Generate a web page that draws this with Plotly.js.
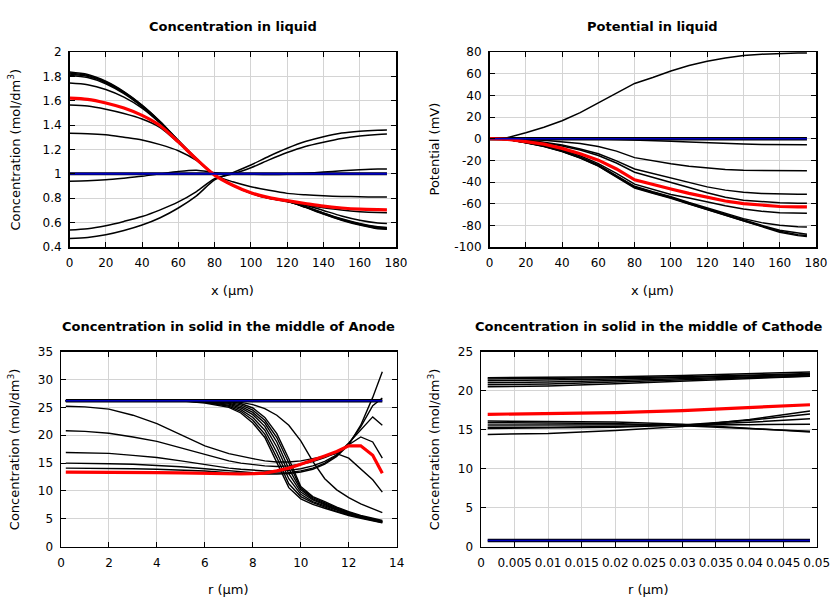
<!DOCTYPE html>
<html>
<head>
<meta charset="utf-8">
<script src="https://cdn.plot.ly/plotly-3.0.1.min.js"></script>
<style>html,body{margin:0;padding:0;background:#fff}#plot{width:840px;height:600px}</style>
</head>
<body>
<div id="plot"></div>
<script>
// ---------- Concentration in liquid (x in µm) ----------
const xLiquid = [0,10,20,30,40,50,60,70,80,90,100,110,120,130,140,150,160,170,175];
const xLiquidEnds = [0,175];
const liqInit = [1,1];
const liqA = [1.835,1.815,1.76,1.675,1.565,1.43,1.275,1.125,0.99,0.905,0.84,0.80,0.775,0.725,0.67,0.62,0.58,0.55,0.545];
const liqB = [1.828,1.808,1.754,1.67,1.56,1.427,1.272,1.123,0.99,0.906,0.842,0.802,0.776,0.727,0.673,0.623,0.584,0.555,0.55];
const liqC = [1.82,1.80,1.748,1.665,1.556,1.424,1.27,1.122,0.99,0.907,0.843,0.803,0.777,0.73,0.677,0.628,0.588,0.56,0.555];
const liqD = [1.81,1.79,1.74,1.658,1.55,1.42,1.268,1.12,0.99,0.908,0.844,0.804,0.778,0.733,0.68,0.632,0.593,0.566,0.56];
const liqE = [1.746,1.732,1.693,1.63,1.54,1.415,1.265,1.12,0.99,0.908,0.845,0.805,0.78,0.745,0.70,0.655,0.62,0.597,0.592];
const liqF = [1.565,1.556,1.53,1.495,1.45,1.38,1.255,1.118,0.99,0.907,0.843,0.80,0.772,0.745,0.722,0.703,0.69,0.683,0.682];
const liqG = [1.333,1.33,1.32,1.30,1.278,1.24,1.19,1.11,0.99,0.935,0.895,0.865,0.84,0.828,0.82,0.815,0.812,0.81,0.81];
const liqH = [0.94,0.944,0.952,0.965,0.98,1.0,1.02,1.03,1.01,1.0,0.997,0.995,0.997,1.005,1.015,1.025,1.034,1.04,1.04];
const liqI = [0.54,0.55,0.575,0.61,0.65,0.705,0.77,0.855,0.96,1.0,1.05,1.115,1.175,1.225,1.26,1.29,1.31,1.323,1.327];
const liqJ = [0.47,0.478,0.50,0.535,0.58,0.64,0.72,0.82,0.95,1.01,1.073,1.145,1.21,1.265,1.305,1.335,1.35,1.358,1.36];
const liqRed = [1.622,1.612,1.582,1.54,1.48,1.395,1.262,1.12,0.99,0.907,0.845,0.805,0.78,0.757,0.735,0.72,0.71,0.706,0.705];

// ---------- Potential in liquid (mV) ----------
const potInit = [0,0];
const potTop = [0,1,5.5,10.5,16.5,24,33,42,51,56.5,62.5,67.5,71.5,74.5,76.8,78,78.7,79,79];
const pot6 = [0,0,0,-0.05,-0.1,-0.2,-0.4,-0.7,-1.1,-1.6,-2.3,-3,-3.8,-4.5,-5,-5.4,-5.6,-5.7,-5.7];
const pot30 = [0,-0.2,-0.7,-1.5,-2.8,-4.5,-7.3,-11.5,-17.5,-20.5,-23.2,-25.5,-27.3,-28.5,-29.2,-29.5,-29.7,-29.7,-29.7];
const pot52 = [0,-0.4,-1.5,-3.2,-5.9,-9.5,-14,-20.5,-28,-32,-36.5,-40.5,-44.5,-47.5,-49.5,-50.6,-51.2,-51.4,-51.4];
const pot60 = [0,-0.5,-1.8,-3.7,-6.8,-10.5,-15.5,-22.5,-31,-35.5,-40.5,-45,-50,-54,-56.8,-58.3,-59.2,-59.6,-59.6];
const pot69 = [0,-0.7,-3.2,-6,-10.3,-15.8,-23,-32,-42,-47,-51.5,-54.8,-58.5,-62,-65,-67,-68.3,-68.8,-68.8];
const pot82 = [0,-0.8,-3.5,-6.6,-11.2,-17,-24.2,-34,-44,-49,-53.5,-59,-64,-69,-73.8,-77.5,-80,-81.3,-81.5];
const potB1 = [0,-0.8,-3.6,-6.8,-11.4,-17.4,-24.6,-34.5,-44.5,-49.5,-54,-59.5,-64.6,-70,-75,-80,-84.5,-87.5,-88.3];
const potB2 = [0,-0.8,-3.7,-7,-11.6,-17.7,-25,-35,-45,-50,-54.5,-60,-65,-70.5,-75.7,-80.8,-85.5,-88.6,-89.4];
const potB3 = [0,-0.8,-3.8,-7.2,-11.8,-18,-25.4,-35.4,-45.5,-50.5,-55,-60.4,-65.5,-71,-76.3,-81.5,-86.3,-89.5,-90.4];
const potRed = [0,-0.6,-2.8,-5,-9,-14,-19.8,-28,-38,-42.5,-46.5,-50.5,-54,-57.5,-60,-61.6,-62.6,-63,-63];
const potTickVals = [-100,-80,-60,-40,-20,0,20,40,60,80];
const potTickText = ['-100','-80','-60','-40','-20','0','20','40','60','80'];

// ---------- Solid, middle of anode (r in µm) ----------
const rAnode = [0.2,1,2,3,4,5,6,7,7.5,8,8.5,9,9.5,10,10.5,11,11.5,12,12.5,13,13.4];
const rAnodeEnds = [0.2,13.4];
const anInit = [26.2,26.2];
const anL  = [26.2,26.2,26.2,26.2,26.2,26.2,25.8,25.0,24.0,22.2,19.6,15.2,10.6,8.6,7.6,6.9,6.2,5.6,5.1,4.6,4.3];
const anB2 = [26.2,26.2,26.2,26.2,26.2,26.2,25.9,25.2,24.3,22.7,20.2,16.0,11.3,9.0,7.9,7.1,6.35,5.7,5.2,4.7,4.35];
const anB3 = [26.2,26.2,26.2,26.2,26.2,26.2,25.95,25.4,24.6,23.2,20.9,16.9,12.2,9.4,8.1,7.3,6.5,5.8,5.3,4.8,4.45];
const anB4 = [26.2,26.2,26.2,26.2,26.2,26.2,26.0,25.6,24.9,23.7,21.6,17.9,13.1,9.8,8.4,7.5,6.65,5.95,5.35,4.85,4.5];
const anB5 = [26.2,26.2,26.2,26.2,26.2,26.2,26.1,25.75,25.2,24.1,22.2,18.8,14.0,10.2,8.6,7.7,6.8,6.05,5.45,4.95,4.55];
const anB6 = [26.2,26.2,26.2,26.2,26.2,26.2,26.15,25.9,25.45,24.5,22.7,19.6,14.9,10.5,8.8,7.9,6.95,6.2,5.5,5.0,4.6];
const anT  = [26.2,26.2,26.2,26.2,26.2,26.2,26.2,26.05,25.7,24.9,23.2,20.3,15.8,10.8,9.0,8.1,7.1,6.3,5.6,5.1,4.7];
const anD  = [26.2,26.2,26.2,26.2,26.2,26.2,26.2,26.1,25.9,25.5,24.8,23.6,21.8,19.0,15.3,12.2,10.2,8.8,7.7,6.8,6.1];
const anC25 = [25.2,25.1,24.7,23.6,22.1,20.1,18.1,16.7,16.2,15.8,15.4,15.2,15.2,15.4,15.8,16.2,16.7,15.9,14.0,12.0,9.8];
const anC21 = [20.8,20.7,20.35,19.7,18.9,17.7,16.5,15.4,15.0,14.7,14.5,14.4,14.5,14.8,15.3,16.0,16.9,18.3,19.7,18.8,15.9];
const anC17 = [16.9,16.85,16.75,16.4,16.0,15.4,14.7,14.1,13.9,13.7,13.6,13.6,13.7,14.0,14.5,15.3,16.5,18.6,21.0,23.3,21.8];
const anC15 = [15.0,15.0,14.9,14.8,14.6,14.35,14.0,13.6,13.45,13.3,13.2,13.2,13.3,13.6,14.1,15.0,16.4,18.5,21.5,25.3,26.7];
const anC14 = [14.1,14.1,14.05,14.0,13.9,13.75,13.6,13.3,13.2,13.1,13.05,13.05,13.15,13.4,13.9,14.8,16.2,18.3,21.8,26.8,31.4];
const anRed = [13.4,13.4,13.4,13.35,13.3,13.25,13.15,13.05,13.05,13.1,13.2,13.6,14.1,14.8,15.5,16.3,17.1,18.1,18.1,16.4,13.2];

// ---------- Solid, middle of cathode (r in µm) ----------
const rCathode = [0.001,0.01,0.02,0.03,0.04,0.049];
const rCathodeEnds = [0.001,0.049];
const caInit = [0.8,0.8];
const caT1 = [21.67,21.7,21.8,21.95,22.15,22.4];
const caT2 = [21.5,21.55,21.65,21.8,22.0,22.2];
const caT3 = [21.28,21.35,21.5,21.7,21.9,22.1];
const caT4 = [21.03,21.1,21.3,21.55,21.8,22.0];
const caT5 = [20.77,20.85,21.1,21.4,21.65,21.9];
const caT6 = [20.5,20.6,20.9,21.2,21.5,21.85];
const caM1 = [16.1,16.05,16.0,15.7,15.2,14.7];
const caM2 = [15.9,15.85,15.8,15.5,15.1,14.8];
const caM3 = [15.6,15.6,15.6,15.6,15.65,15.7];
const caM4 = [15.3,15.3,15.4,15.6,15.95,16.4];
const caM5 = [15.15,15.2,15.3,15.6,16.2,17.0];
const caM6 = [14.4,14.5,14.9,15.4,16.3,17.4];
const caRed = [16.97,17.05,17.2,17.45,17.8,18.2];

// ---------- build ----------
const FONT = 'DejaVu Sans, Verdana, sans-serif';
const BLACK = '#000000', RED = '#ff0000', BLUE = '#0000c0';
const traces = [];
function add(x, y, ax, color, width, smooth) {
  const line = {color: color, width: width};
  if (smooth) { line.shape = 'spline'; line.smoothing = 0.8; }
  traces.push({x: x, y: y, xaxis: 'x' + ax, yaxis: 'y' + ax, type: 'scatter', mode: 'lines',
    line: line, hoverinfo: 'skip', showlegend: false});
}
// panel 1
add(xLiquidEnds, liqInit, '', BLACK, 3);
[liqA, liqB, liqC, liqD, liqE, liqF, liqG, liqH, liqI, liqJ].forEach(c => add(xLiquid, c, '', BLACK, 1.5, true));
add(xLiquid, liqRed, '', RED, 3.2, true);
add(xLiquidEnds, liqInit, '', BLUE, 2);
// panel 2
add(xLiquidEnds, potInit, '2', BLACK, 3.5);
[potTop, pot6, pot30, pot52, pot60, pot69, pot82, potB1, potB2, potB3].forEach(c => add(xLiquid, c, '2', BLACK, 1.5));
add(xLiquid, potRed, '2', RED, 3.2);
add(xLiquidEnds, potInit, '2', BLUE, 1.5);
// panel 3
add(rAnodeEnds, anInit, '3', BLACK, 3.5);
[anL, anB2, anB3, anB4, anB5, anB6, anT, anD, anC25, anC21, anC17, anC15, anC14].forEach(c => add(rAnode, c, '3', BLACK, 1.4));
add(rAnode, anRed, '3', RED, 3.2);
add(rAnodeEnds, anInit, '3', BLUE, 1.3);
// panel 4
add(rCathodeEnds, caInit, '4', BLACK, 3.5);
[caT1, caT2, caT3, caT4, caT5, caT6, caM1, caM2, caM3, caM4, caM5, caM6].forEach(c => add(rCathode, c, '4', BLACK, 1.5));
add(rCathode, caRed, '4', RED, 3.2);
add(rCathodeEnds, caInit, '4', BLUE, 1.5);

const W = 840, H = 600;
function axis(domain, range, dtick, anchor, extra) {
  return Object.assign({domain: domain, range: range, tickmode: 'linear', tick0: 0, dtick: dtick, anchor: anchor,
    showgrid: true, gridcolor: '#d4d4d4', gridwidth: 1, zeroline: false,
    showline: true, linecolor: '#000', linewidth: 1.5, mirror: 'ticks',
    ticks: 'inside', ticklen: 5, tickwidth: 1, tickcolor: '#000', tickangle: 0,
    tickfont: {family: FONT, size: 12, color: '#000'}, ticklabelstandoff: 4, fixedrange: true}, extra || {});
}
const px = v => v / W, py = v => 1 - v / H;
const topY = [py(247), py(52)], botY = [py(546.7), py(351.7)];
const layout = {
  width: W, height: H, margin: {l: 0, r: 0, t: 0, b: 0}, paper_bgcolor: '#fff', plot_bgcolor: '#fff',
  font: {family: FONT, size: 12, color: '#000'}, showlegend: false,
  xaxis:  axis([px(69.5), px(396)], [0, 180], 20, 'y'),
  yaxis:  axis(topY, [0.4, 2], 0.2, 'x'),
  xaxis2: axis([px(489.5), px(816)], [0, 180], 20, 'y2'),
  yaxis2: axis(topY, [-100, 80], 20, 'x2', {tickmode: 'array', tickvals: potTickVals, ticktext: potTickText}),
  xaxis3: axis([px(61), px(396.7)], [0, 14], 2, 'y3'),
  yaxis3: axis(botY, [0, 35], 5, 'x3'),
  xaxis4: axis([px(481), px(816.7)], [0, 0.05], 0.005, 'y4'),
  yaxis4: axis(botY, [0, 25], 5, 'x4'),
  annotations: []
};
function ann(text, x, y, size, angle) {
  layout.annotations.push({text: text, x: px(x), y: py(y), xref: 'paper', yref: 'paper', showarrow: false,
    xanchor: 'center', yanchor: 'middle', textangle: angle || 0, font: {family: FONT, size: size, color: '#000'}});
}
ann('<b>Concentration in liquid</b>', 232.7, 26, 13);
ann('<b>Potential in liquid</b>', 652.7, 26, 13);
ann('<b>Concentration in solid in the middle of Anode</b>', 228.8, 326, 13);
ann('<b>Concentration in solid in the middle of Cathode</b>', 648.8, 326, 13);
ann('x (µm)', 232.7, 290, 13);
ann('x (µm)', 652.7, 290, 13);
ann('r (µm)', 228.8, 589, 13);
ann('r (µm)', 648.8, 589, 13);
ann('Concentration (mol/dm<sup>3</sup>)', 14, 149.5, 13, -90);
ann('Potential (mV)', 434, 149.5, 13, -90);
ann('Concentration (mol/dm<sup>3</sup>)', 14, 449.2, 13, -90);
ann('Concentration (mol/dm<sup>3</sup>)', 434, 449.2, 13, -90);

Plotly.newPlot('plot', traces, layout, {staticPlot: true, displayModeBar: false});
</script>
</body>
</html>
